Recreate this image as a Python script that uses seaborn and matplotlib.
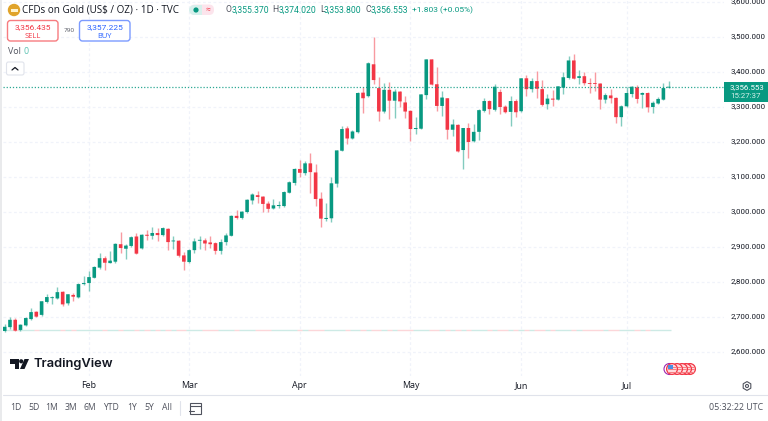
import numpy as np
import pandas as pd
import seaborn as sns
import matplotlib
matplotlib.use("Agg")
import matplotlib.pyplot as plt
from matplotlib.patches import FancyBboxPatch, Rectangle, Circle, Polygon, Wedge

sns.set_theme(style="white")
plt.rcParams['font.family'] = ['Open Sans', 'DejaVu Sans']

# ---------- data (daily candles) ----------
opens = [2660,2671,2692,2663,2676,2694,2715,2706,2743,2754,2753,2772,2739,2763,2756,2794,2797,2812,2841,2868,2854,2858,2908,2895,2903,2930,2896,2935,2932,2940,2934,2952,2916,
         2918,2876,2857,2891,2918,2919,2913,2911,2889,2914,2932,2989,2983,3000,3033,3048,3044,3024,3010,3017,3017,3055,3083,3123,3111,3139,3113,3038,2980,2982,
         3081,3175,3239,3210,3228,3341,3331,3422,3354,3287,3349,3318,3344,3313,3289,3237,3238,3334,3436,3365,3303,3325,3235,3249,3177,3240,3202,3229,3289,3317,3292,
         3343,3301,3286,3317,3288,3382,3351,3374,3351,3308,3324,3321,3355,3383,3433,3383,3388,3368,3368,3367,3321,3333,3326,3271,3302,3337,3356,3335,3340,3300,3310,3321,3355.37]
highs = [2680,2699,2696,2680,2699,2725,2718,2747,2765,2760,2787,2773,2767,2768,2798,2817,2832,2845,2884,2874,2888,2911,2943,2908,2931,2941,2937,2949,2956,2954,2957,2954,2931,
         2920,2886,2894,2926,2930,2926,2932,2914,2923,2939,2991,3006,3003,3037,3053,3059,3047,3031,3036,3032,3059,3088,3126,3149,3145,3169,3137,3057,3025,3101,
         3177,3246,3246,3233,3342,3356,3429,3499,3387,3368,3371,3351,3347,3330,3292,3270,3337,3437,3437,3415,3347,3327,3266,3252,3241,3253,3250,3294,3327,3320,3365,
         3351,3305,3331,3322,3383,3391,3382,3403,3377,3337,3348,3361,3399,3445,3451,3407,3399,3384,3399,3369,3339,3350,3329,3305,3358,3361,3362,3344,3343,3318,3329,3368,3374.02]
lows = [2657,2667,2659,2661,2674,2692,2699,2704,2741,2738,2751,2732,2735,2746,2754,2792,2775,2811,2838,2834,2853,2855,2884,2867,2900,2879,2894,2920,2924,2917,2932,2890,2893,
        2871,2834,2855,2882,2894,2891,2898,2881,2881,2907,2931,2981,2981,2998,3024,3025,3000,3000,3008,3010,3015,3053,3078,3101,3105,3055,3017,2958,2975,2970,
        3071,3173,3194,3208,3226,3284,3328,3366,3261,3284,3267,3269,3299,3269,3202,3224,3236,3324,3362,3288,3274,3208,3217,3170,3122,3154,3200,3206,3287,3280,3288,
        3280,3282,3245,3270,3286,3332,3343,3327,3304,3293,3302,3319,3337,3381,3379,3365,3363,3339,3346,3295,3312,3310,3255,3245,3300,3329,3312,3298,3287,3283,3308,3320,3353.8]
closes = [2672,2692,2661,2678,2697,2714,2701,2745,2757,2756,2771,2736,2765,2758,2794,2797,2814,2843,2868,2855,2861,2909,2897,2904,2928,2881,2935,2932,2940,2934,2954,2914,2918,
          2875,2858,2891,2916,2920,2910,2908,2889,2914,2933,2989,2983,3001,3035,3050,3043,3023,3009,3019,3020,3057,3085,3123,3112,3139,3114,3037,2981,2983,3082,
          3176,3237,3210,3230,3340,3325,3425,3377,3287,3349,3318,3344,3316,3287,3237,3240,3336,3436,3364,3303,3327,3235,3250,3173,3240,3200,3229,3291,3317,3294,3358,
          3300,3285,3317,3285,3382,3351,3374,3352,3306,3324,3321,3359,3385,3433,3381,3388,3368,3366,3366,3321,3334,3325,3271,3302,3340,3358,3323,3340,3299,3312,3323,3354,3356.553]

price_ticks = [2600, 2700, 2800, 2900, 3000, 3100, 3200, 3300, 3400, 3500, 3600]
month_labels = ["Feb", "Mar", "Apr", "May", "Jun", "Jul"]
month_index = [16, 35, 56, 77, 98, 118]
last_price = 3356.553
volume_baseline = 2663
range_buttons = ["1D", "5D", "1M", "3M", "6M", "YTD", "1Y", "5Y", "All"]
range_button_x = [16, 34, 52, 71, 90, 111, 132, 149, 167]

# ---------- table ----------
df = pd.DataFrame({"open": opens, "high": highs, "low": lows, "close": closes})
df["day"] = np.arange(len(df))
df["up"] = df["close"] >= df["open"]
df["body_low"] = df[["open", "close"]].min(axis=1)
df["body_h"] = (df["open"] - df["close"]).abs().clip(lower=2.5)

UP, DOWN = "#089981", "#f23645"
GRID = "#f0f3fa"
TXT = "#131722"
GREY = "#50535e"
NUM = "Roboto"

fig = plt.figure(figsize=(7.68, 4.21), dpi=100, facecolor="white")
W, H = 768, 421
L, R, T, B = 3, 724, 0, 376
ax = fig.add_axes([L / W, 1 - B / H, (R - L) / W, (B - T) / H])
ax.set_facecolor("white")

# grid
ax.set_yticks(price_ticks)
ax.set_xticks(month_index)
ax.grid(True, color=GRID, lw=0.9, ls=(0, (2.2, 2.0)))
ax.set_axisbelow(True)

# wicks
for up, c in ((True, UP), (False, DOWN)):
    s = df[df.up == up]
    ax.vlines(s["day"], s["low"], s["high"], color=c, lw=1.0, alpha=0.5, zorder=2)

# bodies
for up, c in ((True, UP), (False, DOWN)):
    s = df[df.up == up]
    sns.barplot(x=s["day"].values, y=s["body_h"].values, bottom=s["body_low"].values,
                native_scale=True, width=0.68, color=c, saturation=1, errorbar=None,
                linewidth=0, ax=ax, zorder=3, dodge=False, snap=False)

# zero-volume strip
for up, c in ((True, UP), (False, DOWN)):
    s = df[df.up == up]
    ax.hlines(np.full(len(s), volume_baseline), s["day"] - 0.5, s["day"] + 0.5,
              color=c, lw=1.0, alpha=0.2, zorder=2)

# last price line
ax.axhline(last_price, color=UP, lw=0.9, ls=(0, (1, 1.5)), alpha=0.85, zorder=4)

ax.set_xlim(-0.32, 136.5)
ax.set_ylim(2531.4, 3605.7)
ax.tick_params(left=False, bottom=False, labelleft=False, labelbottom=False, right=False)
for sp in ax.spines.values():
    sp.set_visible(False)

# month labels and price labels, bound to the data scales
for i, lab in zip(month_index, month_labels):
    ax.annotate(lab, (i, 0), xycoords=("data", "figure fraction"), xytext=(0, (421 - 386) * 0.72),
                textcoords="offset points", ha="center", va="center", fontsize=6.4, color=TXT)
for p in price_ticks:
    ax.annotate(f"{p:,.3f}", (1, p), xycoords=("axes fraction", "data"), xytext=(4.5, 0.6),
                textcoords="offset points", ha="left", va="center", fontsize=5.7, family=NUM,
                color=TXT, annotation_clip=False)

# ---------- chrome overlay in pixel coordinates ----------
ov = fig.add_axes([0, 0, 1, 1], facecolor="none")
ov.set_xlim(0, W); ov.set_ylim(H, 0); ov.axis("off")

def t(x, y, s, size=6.6, color=TXT, ha="left", zorder=8, **kw):
    ov.text(x, y, s, fontsize=size, color=color, ha=ha, va="center", zorder=zorder, **kw)

def rbox(x0, y0, x1, y1, r, fc, ec, lw=1.0, z=5):
    ov.add_patch(FancyBboxPatch((x0, y0), x1 - x0, y1 - y0,
                                boxstyle=f"round,pad=0,rounding_size={r}",
                                fc=fc, ec=ec, lw=lw, zorder=z))

ov.add_patch(Rectangle((0, 0), 2, H, fc="#e9eaec", ec="none"))
ov.plot([3, W], [395, 395], color="#e0e3eb", lw=0.8)

# header
ov.add_patch(Circle((14, 10), 6.2, fc="#e0a32a", ec="none", zorder=5))
ov.add_patch(Rectangle((10.5, 9), 7, 3, fc="#fff2cc", ec="none", zorder=6))
t(22, 10, "CFDs on Gold (US$ / OZ) · 1D · TVC", 7.1, "#131722")
rbox(190, 4.5, 214, 15, 5, "#fce4ec", "none")
ov.add_patch(Wedge((194, 10), 5, 90, 270, fc="#d7f0ec", ec="none", zorder=6))
ov.add_patch(Rectangle((194, 5), 8, 10, fc="#d7f0ec", ec="none", zorder=6))
ov.add_patch(Circle((196, 10), 2.6, fc=UP, ec="none", zorder=7))
t(207.5, 9.7, "≈", 6, DOWN, ha="center")

ohlc = [("O", 225.5, 231.7, "3,355.370"), ("H", 272.5, 279, "3,374.020"),
        ("L", 320, 324, "3,353.800"), ("C", 365, 370.7, "3,356.553")]
for k, x, xv, v in ohlc:
    t(x, 9.8, k, 6.2, GREY, family=NUM)
    t(xv, 9.8, v, 6.2, UP, family=NUM)
t(411.5, 9.8, "+1.803 (+0.05%)", 6.0, UP, family=NUM)

# sell / buy
rbox(7.5, 20.5, 58, 41, 3, "white", "#f77c80")
t(32.7, 27, "3,356.435", 6.0, "#f23645", ha="center", family=NUM)
t(32.7, 36, "SELL", 5.4, "#f23645", ha="center")
t(69, 30.5, "790", 4.6, GREY, ha="center")
rbox(79.5, 20.5, 130, 41, 3, "white", "#7c9bff")
t(104.7, 27, "3,357.225", 6.0, "#2962ff", ha="center", family=NUM)
t(104.7, 36, "BUY", 5.4, "#2962ff", ha="center")

t(7.5, 52, "Vol", 6.4, GREY)
t(24, 52, "0", 6.4, "#5cc2b2")
rbox(6.5, 62, 24, 75, 2, "white", "#e0e3eb", lw=0.8)
ov.plot([12, 15, 18], [70, 67.5, 70], color=TXT, lw=0.9, zorder=6)

# current price tag
ov.add_patch(Rectangle((724, 81.5), 44, 20.5, fc=UP, ec="none", zorder=6))
t(730, 87.3, "3,356.553", 5.7, "white", family=NUM)
t(730, 96.4, "15:27:37", 5.7, "#d5f0ea", family=NUM)

# TradingView logo
ov.add_patch(Polygon([(9.5, 359), (19, 359), (19, 369), (15, 369), (15, 363.5), (9.5, 363.5)], fc=TXT, ec="none"))
ov.add_patch(Circle((21.2, 361.3), 2.1, fc=TXT, ec="none"))
ov.add_patch(Polygon([(24.5, 359), (29, 359), (24.5, 369), (20, 369)], fc=TXT, ec="none"))
t(33, 364, "TradingView", 9.3, TXT, fontweight="semibold", family="Inter")

# range buttons
for x, lab in zip(range_button_x, range_buttons):
    t(x, 408, lab, 6.2, GREY, ha="center")
ov.plot([179.5, 179.5], [401, 415], color="#e0e3eb", lw=0.8)
ov.add_patch(Rectangle((190, 403), 11, 11, fc="none", ec=GREY, lw=0.8))
ov.plot([190, 201], [406, 406], color=GREY, lw=0.8)
ov.plot([189, 194], [411, 411], color=GREY, lw=0.8)

t(763, 408, "05:32:22 UTC", 6.4, GREY, ha="right")

# settings hexagon
ov.add_patch(Polygon([(747 + 4.4 * np.cos(a), 386 + 4.4 * np.sin(a)) for a in np.deg2rad(np.arange(30, 390, 60))],
                     fc="white", ec=GREY, lw=0.8))
ov.add_patch(Circle((747, 386), 1.5, fc="white", ec=GREY, lw=0.8))

# flag icons
ov.add_patch(Circle((669.5, 369), 5.5, fc="white", ec="#9c27b0", lw=0.8, zorder=5))
for cx in (690, 686, 682, 677, 672):
    ov.add_patch(Circle((cx, 369), 5.4, fc="#ffd9dc", ec="#f23645", lw=0.9, zorder=6))
    for yy in (366.5, 369, 371.5):
        ov.plot([cx - 4, cx + 4], [yy, yy], color="#f77c80", lw=0.7, zorder=6)
ov.add_patch(Rectangle((668, 365), 5, 4.2, fc="#4a90e2", ec="none", zorder=7))

fig.savefig("out.png", dpi=100, facecolor="white")
